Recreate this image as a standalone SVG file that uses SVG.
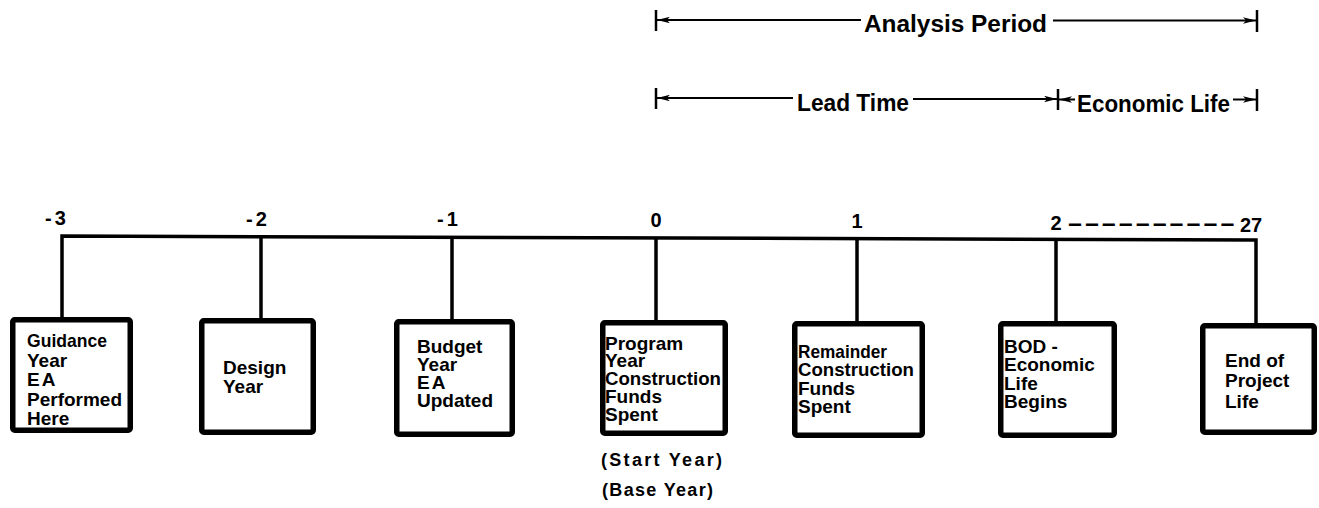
<svg xmlns="http://www.w3.org/2000/svg" width="1319" height="508" viewBox="0 0 1319 508">
<defs>
<marker id="ah" viewBox="0 0 12 6" refX="12" refY="3" markerWidth="13" markerHeight="6.5" markerUnits="userSpaceOnUse" orient="auto">
<path d="M0,0 L12,3 L0,6 L3,3 z" fill="#000"/>
</marker>
<style>
.box{fill:#fff;stroke:#000;stroke-width:5.5}
.t{font-family:"Liberation Sans",Arial,sans-serif;font-weight:bold;font-size:19px;fill:#000}
.yr{font-family:"Liberation Sans",Arial,sans-serif;font-weight:bold;font-size:20px;fill:#000}
.nt{font-family:"Liberation Sans",Arial,sans-serif;font-weight:bold;font-size:18px;fill:#000}
.dim{font-family:"Liberation Sans",Arial,sans-serif;font-weight:bold;font-size:23px;fill:#000}
.ln{stroke:#000;stroke-width:3.5;fill:none}
.dl{stroke:#000;stroke-width:2;fill:none;marker-end:url(#ah)}
.bar{stroke:#000;stroke-width:2.5}
</style>
</defs>
<rect width="1319" height="508" fill="#fff"/>

<g id="connectors">
<path class="ln" d="M62,317 V236 L1256,240 V323"/>
<line class="ln" x1="261" y1="236.7" x2="261" y2="318"/>
<line class="ln" x1="452" y1="237.3" x2="452" y2="319"/>
<line class="ln" x1="656" y1="238" x2="656" y2="320"/>
<line class="ln" x1="857" y1="238.7" x2="857" y2="321"/>
<line class="ln" x1="1056" y1="239.3" x2="1056" y2="321"/>
</g>

<g id="year-labels">
<text class="yr" x="57" y="225" text-anchor="middle" letter-spacing="3">-3</text>
<text class="yr" x="258" y="226" text-anchor="middle" letter-spacing="3">-2</text>
<text class="yr" x="449" y="226" text-anchor="middle" letter-spacing="3">-1</text>
<text class="yr" x="656" y="227" text-anchor="middle">0</text>
<text class="yr" x="857" y="228" text-anchor="middle">1</text>
<text class="yr" x="1056" y="230" text-anchor="middle">2</text>
<text class="yr" transform="translate(1067,230) scale(2.4,1)" letter-spacing="0.4">----------</text>
<text class="yr" x="1240" y="232">27</text>
</g>

<g id="dimensions">
<line class="bar" x1="656" y1="10" x2="656" y2="31"/>
<line class="bar" x1="1257" y1="10" x2="1257" y2="32"/>
<line class="dl" x1="861" y1="20" x2="657" y2="20"/>
<line class="dl" x1="1053" y1="20.5" x2="1256" y2="20.5"/>
<text class="dim" x="864" y="32" textLength="183" lengthAdjust="spacingAndGlyphs">Analysis Period</text>

<line class="bar" x1="656" y1="88" x2="656" y2="109"/>
<line class="bar" x1="1058" y1="89" x2="1058" y2="110"/>
<line class="bar" x1="1257" y1="89" x2="1257" y2="111"/>
<line class="dl" x1="793" y1="98" x2="657" y2="98"/>
<text class="dim" x="797" y="111" textLength="112" lengthAdjust="spacingAndGlyphs">Lead Time</text>
<line class="dl" x1="913" y1="99" x2="1057" y2="99"/>
<line class="dl" x1="1075" y1="99.5" x2="1059" y2="99.5"/>
<text class="dim" x="1077" y="112" textLength="153" lengthAdjust="spacingAndGlyphs">Economic Life</text>
<line class="dl" x1="1233" y1="99.5" x2="1256" y2="99.5"/>
</g>

<g id="node-guidance">
<rect class="box" x="12.75" y="319.75" width="117.5" height="110.5" rx="2"/>
<text class="t" x="27" y="347" textLength="80" lengthAdjust="spacingAndGlyphs">Guidance</text>
<text class="t" x="27" y="367">Year</text>
<text class="t" x="27" y="386" letter-spacing="2">EA</text>
<text class="t" x="27" y="406">Performed</text>
<text class="t" x="27" y="425">Here</text>
</g>

<g id="node-design">
<rect class="box" x="201.75" y="320.75" width="111.5" height="111.5" rx="2"/>
<text class="t" x="223" y="374">Design</text>
<text class="t" x="223" y="393">Year</text>
</g>

<g id="node-budget">
<rect class="box" x="396.75" y="321.75" width="115.5" height="112.5" rx="2"/>
<text class="t" x="417" y="353">Budget</text>
<text class="t" x="417" y="371">Year</text>
<text class="t" x="417" y="389" letter-spacing="2">EA</text>
<text class="t" x="417" y="407">Updated</text>
</g>

<g id="node-program">
<rect class="box" x="602.75" y="322.75" width="122.5" height="110.5" rx="2"/>
<text class="t" x="605" y="350">Program</text>
<text class="t" x="605" y="367">Year</text>
<text class="t" x="605" y="385" textLength="116" lengthAdjust="spacingAndGlyphs">Construction</text>
<text class="t" x="605" y="403">Funds</text>
<text class="t" x="605" y="421">Spent</text>
</g>

<g id="note-start">
<text class="nt" x="601" y="466" textLength="121" lengthAdjust="spacing">(Start Year)</text>
<text class="nt" x="602" y="496" textLength="111" lengthAdjust="spacing">(Base Year)</text>
</g>

<g id="node-remainder">
<rect class="box" x="794.75" y="323.75" width="127.5" height="111.5" rx="2"/>
<text class="t" x="798" y="358" textLength="89" lengthAdjust="spacingAndGlyphs">Remainder</text>
<text class="t" x="798" y="376" textLength="116" lengthAdjust="spacingAndGlyphs">Construction</text>
<text class="t" x="798" y="395">Funds</text>
<text class="t" x="798" y="413">Spent</text>
</g>

<g id="node-bod">
<rect class="box" x="1000.75" y="323.75" width="113.5" height="111.5" rx="2"/>
<text class="t" x="1004" y="353">BOD -</text>
<text class="t" x="1004" y="371">Economic</text>
<text class="t" x="1004" y="390">Life</text>
<text class="t" x="1004" y="408">Begins</text>
</g>

<g id="node-end">
<rect class="box" x="1202.75" y="325.75" width="111.5" height="106.5" rx="2"/>
<text class="t" x="1225" y="367">End of</text>
<text class="t" x="1225" y="387">Project</text>
<text class="t" x="1225" y="408">Life</text>
</g>
</svg>
